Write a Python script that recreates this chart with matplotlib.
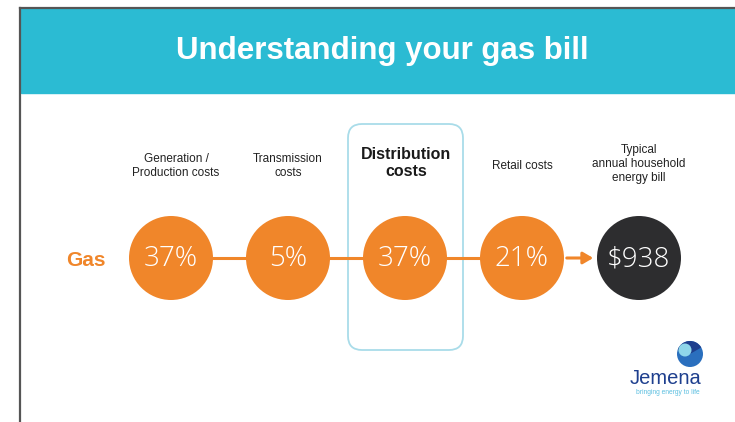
import matplotlib
matplotlib.use("Agg")
import matplotlib.pyplot as plt
from matplotlib.patches import Circle, FancyBboxPatch, Rectangle, Wedge

# data
stages = ["Generation /\nProduction costs", "Transmission\ncosts", "Distribution\ncosts",
          "Retail costs", "Typical\nannual household\nenergy bill"]
values = ["37%", "5%", "37%", "21%", "$938"]
highlight = 2          # index of the boxed stage
row_label = "Gas"
title = "Understanding your gas bill"

ORANGE = "#f0862a"
DARK = "#2d2d2f"
CYAN = "#2bbbd3"

W, H = 735, 422
fig = plt.figure(figsize=(W / 100, H / 100), dpi=100)
ax = fig.add_axes([0, 0, 1, 1])
ax.set_xlim(0, W)
ax.set_ylim(H, 0)
ax.axis("off")

# screenshot frame
ax.plot([20, 20], [8, H], color="#555555", lw=1.6)
ax.plot([20, W], [8, 8], color="#555555", lw=1.6)

# banner
ax.add_patch(Rectangle((21, 9), W - 21, 84, color=CYAN, zorder=1))
ax.text(382, 51, title, color="white", fontsize=22.5, fontweight="bold",
        family="Liberation Sans", ha="center", va="center")

xs = [171 + i * 117 for i in range(len(values))]
yc = 258
r = 42

# highlight box
ax.add_patch(FancyBboxPatch((xs[highlight] - 57, 124), 115, 226,
                            boxstyle="round,pad=0,rounding_size=14",
                            fc="white", ec="#a9dce9", lw=1.3, zorder=1))

# connectors
ax.plot([xs[0], xs[-2]], [yc, yc], color=ORANGE, lw=2.2, zorder=2)
ax.annotate("", xy=(xs[-1] - r - 1, yc), xytext=(xs[-2] + r, yc),
            arrowprops=dict(arrowstyle="-|>,head_length=0.6,head_width=0.35",
                            color=ORANGE, lw=2.2), zorder=2)

for i, (x, lab, v) in enumerate(zip(xs, stages, values)):
    fc = DARK if i == len(values) - 1 else ORANGE
    ax.add_patch(Circle((x, yc), r, fc=fc, ec="none", zorder=3))
    ax.text(x, yc + 1, v, color="white", fontsize=20, family="Open Sans",
            fontweight=300, ha="center", va="center", zorder=4)
    if i == highlight:
        ax.text(x + 1, 163, lab, fontsize=11.5, fontweight="bold", family="Liberation Sans",
                color="#1a1a1a", ha="center", va="center", linespacing=1.1)
    else:
        ax.text(x + (5 if i == 0 else 0), 166 if i != 4 else 164, lab, fontsize=8.5,
                family="Liberation Sans", color="#222222", ha="center", va="center",
                linespacing=1.2)

ax.text(86, 260, row_label, color=ORANGE, fontsize=15, fontweight="bold",
        family="Liberation Sans", ha="center", va="center")

# logo
ax.add_patch(Circle((690, 354), 13, fc="#2a6fbe", ec="none", zorder=3))
ax.add_patch(Wedge((690, 354), 13, 200, 330, fc="#1e3f8e", ec="none", zorder=4))
ax.add_patch(Circle((685, 350), 6.5, fc="#8fd6ea", ec="none", zorder=5))
ax.text(666, 379, "Jemena", color="#1e3f8e", fontsize=14.5, family="Liberation Sans",
        ha="center", va="center")
ax.text(668, 392, "bringing energy to life", color="#5bbfe0", fontsize=4.8,
        family="Liberation Sans", ha="center", va="center")

fig.savefig("out.png", dpi=100, facecolor="white")
